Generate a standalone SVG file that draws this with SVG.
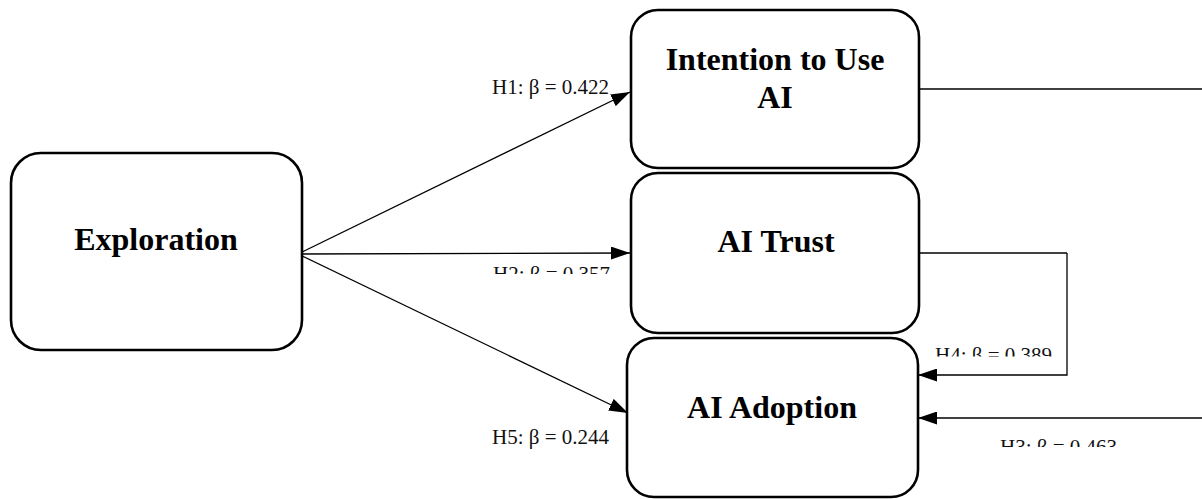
<svg xmlns="http://www.w3.org/2000/svg" width="1202" height="499" viewBox="0 0 1202 499">
  <style>
    .node { fill: #ffffff; stroke: #000000; stroke-width: 2.6; }
    .title { font-family: "Liberation Serif", "Times New Roman", serif; font-weight: bold; font-size: 32px; fill: #000000; text-anchor: middle; }
    .edge { fill: none; stroke: #000000; stroke-width: 1.3; }
    .lbl { font-family: "Liberation Serif", "Times New Roman", serif; font-size: 21px; fill: #111111; }
  </style>
  <defs>
    <marker id="head" viewBox="0 0 19 13" refX="19" refY="6.5" markerWidth="19" markerHeight="13" markerUnits="userSpaceOnUse" orient="auto">
      <path d="M0,0 L19,6.5 L0,13 Z" fill="#000000"/>
    </marker>
    <!-- text boxes that cut the lower half of some coefficient labels -->
    <clipPath id="clipH2"><rect x="480" y="260" width="150" height="14"/></clipPath>
    <clipPath id="clipH4"><rect x="925" y="340" width="140" height="16.5"/></clipPath>
    <clipPath id="clipH3"><rect x="990" y="432" width="140" height="15"/></clipPath>
  </defs>

  <rect width="1202" height="499" fill="#ffffff"/>

  <g id="connectors">
    <line class="edge" x1="298" y1="254" x2="630" y2="92" marker-end="url(#head)"/>
    <line class="edge" x1="298" y1="254" x2="630" y2="253" marker-end="url(#head)"/>
    <line class="edge" x1="298" y1="254" x2="628" y2="413" marker-end="url(#head)"/>
    <line class="edge" x1="919" y1="89" x2="1202" y2="89"/>
    <polyline class="edge" points="919,253 1067,253"/>
    <polyline class="edge" points="1067,253 1067,375 918,375" marker-end="url(#head)"/>
    <line class="edge" x1="1202" y1="418" x2="918" y2="418" marker-end="url(#head)"/>
  </g>

  <g id="labels">
    <text class="lbl" x="492" y="94">H1: β = 0.422</text>
    <text class="lbl" x="493" y="281" clip-path="url(#clipH2)">H2: β = 0.357</text>
    <text class="lbl" x="492" y="444">H5: β = 0.244</text>
    <text class="lbl" x="935" y="362" clip-path="url(#clipH4)">H4: β = 0.389</text>
    <text class="lbl" x="1000" y="454" clip-path="url(#clipH3)">H3: β = 0.463</text>
  </g>

  <g id="exploration">
    <rect class="node" x="11" y="153" width="291" height="197" rx="30" ry="30"/>
    <text class="title" x="156" y="250">Exploration</text>
  </g>

  <g id="intention">
    <rect class="node" x="631" y="10" width="288" height="158" rx="27" ry="27"/>
    <text class="title" x="775" y="70">Intention to Use</text>
    <text class="title" x="775" y="108">AI</text>
  </g>

  <g id="trust">
    <rect class="node" x="631" y="173" width="288" height="160" rx="27" ry="27"/>
    <text class="title" x="776" y="252">AI Trust</text>
  </g>

  <g id="adoption">
    <rect class="node" x="627" y="338" width="291" height="159" rx="27" ry="27"/>
    <text class="title" x="772" y="418">AI Adoption</text>
  </g>
</svg>
